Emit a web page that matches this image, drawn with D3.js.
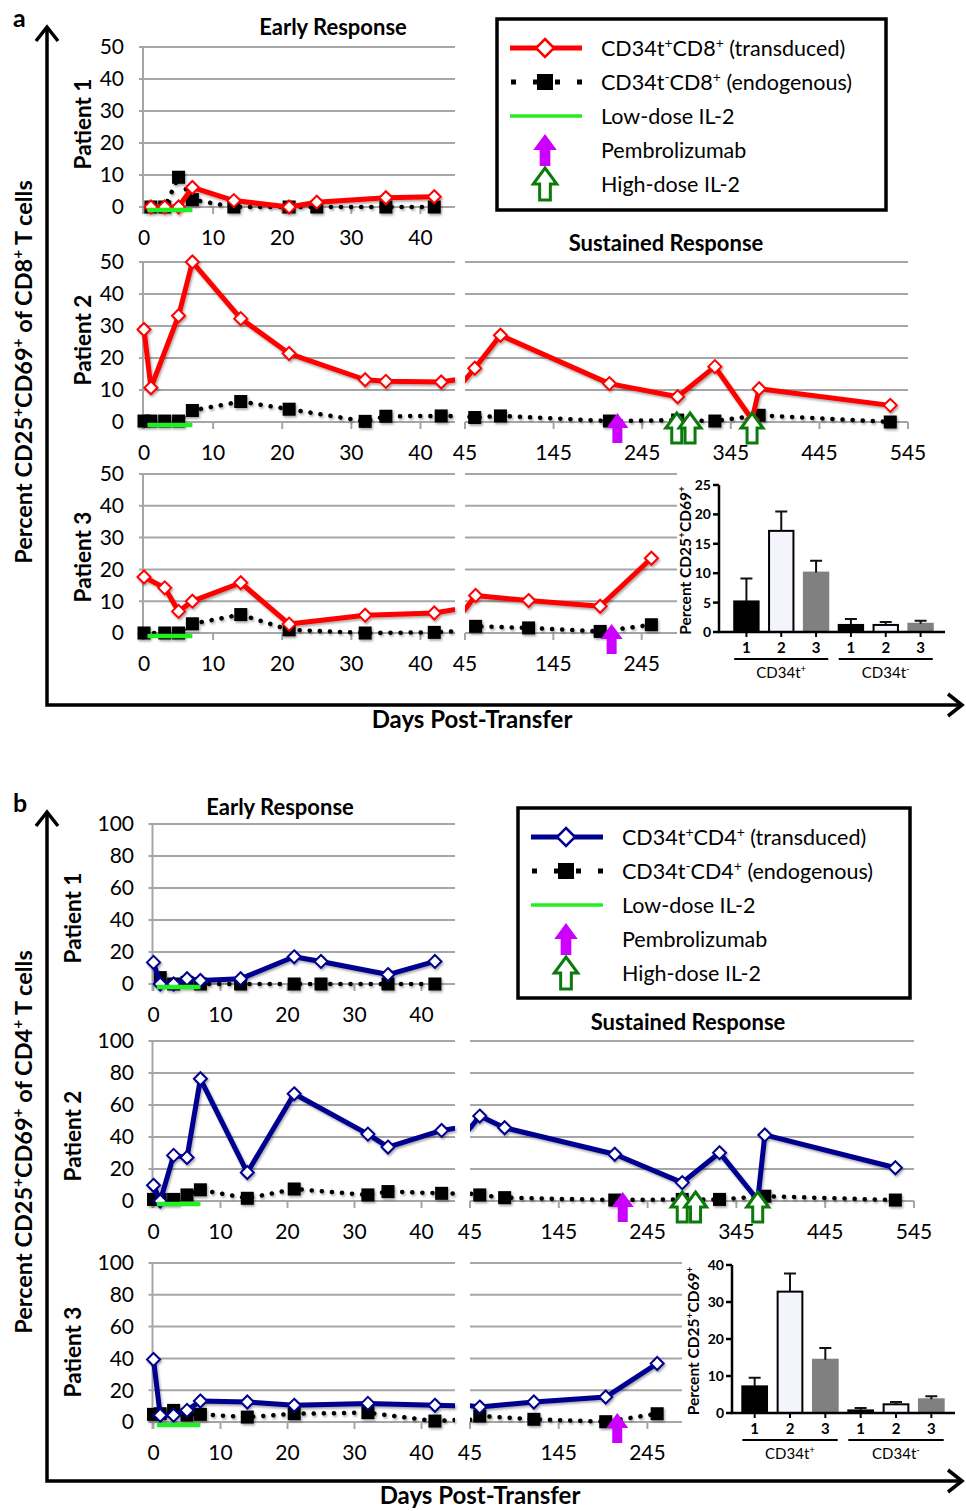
<!DOCTYPE html>
<html>
<head>
<meta charset="utf-8">
<script src="https://cdn.jsdelivr.net/npm/d3@7"></script>
<style>
  body { margin: 0; background: #fff; }
  text { font-family: Lato, "Open Sans", sans-serif; fill: #000; }
</style>
</head>
<body>
<svg id="fig" width="966" height="1511"></svg>
<script>
// ---------- values ----------
var il2Days = [0.5, 7];                 // low-dose IL-2 window
var p2Pembro = [217], p2HighDose = [284, 299, 369];
var p3Pembro = [211];

// panel a, CD8+
var a1Days  = [1, 3, 5, 7, 13, 21, 25, 35, 42];
var a1Trans = [0, 0, 0, 6.1, 2.0, 0, 1.5, 2.9, 3.2];
var a1Endo  = [0, 0, 9.3, 2.3, 0, 0, 0, 0, 0];

var a2Days  = [0, 1, 3, 5, 7, 14, 21, 32, 35, 43, 56, 85, 208, 285, 327, 369, 377, 525];
var a2Trans = [28.9, 10.7, null, 33.2, 50, 32.3, 21.4, 13.2, 12.7, 12.5, 16.8, 27.1, 12.0, 7.9, 17.3, 0.8, 10.4, 5.2];
var a2Endo  = [0.3, 0.3, 0.3, 0.3, 3.6, 6.4, 4.0, 0.2, 1.8, 1.9, 1.4, 1.9, 0.3, 0.6, 0.3, null, 2.1, 0];

var a3Days  = [0, 3, 5, 7, 14, 21, 32, 42, 57, 117, 198, 256];
var a3Trans = [17.6, 14.2, 6.8, 10.0, 15.8, 2.8, 5.6, 6.3, 11.8, 10.2, 8.4, 23.5];
var a3Endo  = [0, 0, 0, 2.9, 5.8, 1.0, 0, 0.2, 2.1, 1.6, 0.5, 2.6];

// panel b, CD4+
var b1Days  = [0, 1, 3, 5, 7, 13, 21, 25, 35, 42];
var b1Trans = [13.5, 0, 0, 3.3, 2.2, 3.3, 17.0, 14.1, 5.9, 14.1];
var b1Endo  = [null, 4.0, 0, 1.0, 0, 0, 0, 0, 0, 0];

var b2Days  = [0, 1, 3, 5, 7, 14, 21, 32, 35, 43, 56, 84, 208, 284, 326, 369, 377, 524];
var b2Trans = [9.8, 0, 28.5, 27.2, 76.4, 17.8, 67.0, 41.8, 33.7, 44.1, 53.1, 45.8, 29.2, 11.5, 30.2, 0.6, 41.3, 20.8];
var b2Endo  = [1.0, 1.0, 1.0, 3.8, 7.0, 1.7, 7.5, 3.8, 5.9, 4.8, 3.8, 2.1, 0.6, 1.0, 1.0, null, 3.0, 0.6];

var b3Days  = [0, 1, 3, 5, 7, 14, 21, 32, 42, 56, 117, 198, 256];
var b3Trans = [39.3, 4.2, 4.2, 7.3, 13.2, 12.6, 10.5, 11.7, 10.5, 9.4, 12.6, 15.7, 36.8];
var b3Endo  = [4.8, 5.2, 7.3, 4.4, 4.8, 3.1, 5.2, 5.9, 0.6, 3.8, 1.7, 0.2, 5.2];

// inset bar charts
var barLabels = ["1", "2", "3", "1", "2", "3"];
var barGroups = ["CD34t^+", "CD34t^-"];
var barColors = ["#000000", "#f4f4fc", "#808080"];
var cd8Mean = [5.2, 17.2, 10.1, 1.2, 1.2, 1.4];
var cd8Err  = [3.9, 3.3, 2.0, 1.0, 0.5, 0.5];
var cd4Mean = [7.2, 32.8, 14.4, 0.7, 2.35, 3.7];
var cd4Err  = [2.3, 4.9, 3.2, 0.65, 0.65, 0.8];

// ticks
var cd8Ticks = [0, 10, 20, 30, 40, 50];
var cd4Ticks = [0, 20, 40, 60, 80, 100];
var earlyTicks = [0, 10, 20, 30, 40];
var lateTicks = [45, 145, 245, 345, 445, 545];
var lateTicksShort = [45, 145, 245];
var cd8BarTicks = [0, 5, 10, 15, 20, 25];
var cd4BarTicks = [0, 10, 20, 30, 40];

var legendA = ["CD34t^+CD8^+ (transduced)", "CD34t^-CD8^+ (endogenous)", "Low-dose IL-2", "Pembrolizumab", "High-dose IL-2"];
var legendB = ["CD34t^+CD4^+ (transduced)", "CD34t^-CD4^+ (endogenous)", "Low-dose IL-2", "Pembrolizumab", "High-dose IL-2"];

// ---------- drawing ----------
var svg = d3.select("#fig");
var defs = svg.append("defs");
defs.append("filter").attr("id", "shadow").attr("x", "-20%").attr("y", "-20%").attr("width", "140%").attr("height", "140%")
  .append("feDropShadow").attr("dx", 1.2).attr("dy", 1.8).attr("stdDeviation", 1.2).attr("flood-opacity", 0.35);

var GRID = "#a6a6a6", RED = "#ff0000", BLUE = "#00008f", LIME = "#22ee22", PURPLE = "#cc00ff", DKGREEN = "#0a7a0a";
var ARIAL = "'Liberation Sans', Arial, sans-serif";

// text with ^+ / ^- superscripts
function rich(sel, str) {
  str.split(/(\^[+-])/).forEach(function (p) {
    if (!p) return;
    if (p[0] === "^") sel.append("tspan").attr("baseline-shift", "super").attr("font-size", "65%").text(p[1]);
    else sel.append("tspan").text(p);
  });
  return sel;
}

function pairs(days, vals) {
  return days.map(function (d, i) { return [d, vals[i]]; }).filter(function (p) { return p[1] != null; });
}

function diamond(cx, cy, r) {
  return "M" + cx + "," + (cy - r) + "L" + (cx + r) + "," + cy + "L" + cx + "," + (cy + r) + "L" + (cx - r) + "," + cy + "Z";
}

function arrow(cx, tip, k) {
  k = k || 1;
  var hw = 11 * k, sw = 5 * k, hh = 15 * k, h = 30 * k;
  return "M" + cx + "," + tip + "L" + (cx + hw) + "," + (tip + hh) + "L" + (cx + sw) + "," + (tip + hh) +
    "L" + (cx + sw) + "," + (tip + h) + "L" + (cx - sw) + "," + (tip + h) + "L" + (cx - sw) + "," + (tip + hh) +
    "L" + (cx - hw) + "," + (tip + hh) + "Z";
}

var clipN = 0;
function lineChart(o) {
  var x = d3.scaleLinear().domain(o.dom).range(o.xr);
  var y = d3.scaleLinear().domain([0, d3.max(o.yTicks)]).range([o.y0, o.yTop]);
  var g = svg.append("g");

  g.selectAll(null).data(o.yTicks).join("line")
    .attr("x1", o.early ? o.xr[0] - 5 : o.xr[0]).attr("x2", o.xr[1])
    .attr("y1", y).attr("y2", y)
    .attr("stroke", GRID).attr("stroke-width", 2);
  g.selectAll(null).data(o.xTicks).join("line")
    .attr("x1", x).attr("x2", x).attr("y1", o.y0).attr("y2", o.y0 + 7)
    .attr("stroke", GRID).attr("stroke-width", 2);
  g.selectAll(null).data(o.xTicks).join("text")
    .attr("x", x).attr("y", o.y0 + 38).attr("text-anchor", "middle").attr("font-size", 21)
    .text(function (d) { return d; });

  if (o.early) {
    g.append("line").attr("x1", x(0) - 1).attr("x2", x(0) - 1).attr("y1", o.yTop).attr("y2", o.y0 + 7)
      .attr("stroke", GRID).attr("stroke-width", 2);
    g.selectAll(null).data(o.yTicks).join("text")
      .attr("x", o.labelX).attr("y", y).attr("dy", "0.35em").attr("text-anchor", "end").attr("font-size", 21)
      .text(function (d) { return d; });
  }

  var id = "clip" + (clipN++);
  var c0 = o.early ? x(0) - 12 : o.xr[0], c1 = o.early ? o.xr[1] : o.xr[1] + 12;
  defs.append("clipPath").attr("id", id).append("rect")
    .attr("x", c0).attr("y", o.yTop - 30).attr("width", c1 - c0).attr("height", o.y0 - o.yTop + 60);

  var line = d3.line().x(function (d) { return x(d[0]); }).y(function (d) { return y(d[1]); });
  var endo = pairs(o.days, o.endo), trans = pairs(o.days, o.trans);
  var inDom = function (d) { return d[0] >= o.dom[0] && d[0] <= o.dom[1]; };

  var s = g.append("g").attr("filter", "url(#shadow)");
  s.append("path").datum(endo).attr("clip-path", "url(#" + id + ")").attr("d", line)
    .attr("fill", "none").attr("stroke", "#000").attr("stroke-width", 4.5)
    .attr("stroke-linecap", "round").attr("stroke-dasharray", "0.1 10");
  s.selectAll(null).data(endo.filter(inDom)).join("rect")
    .attr("x", function (d) { return x(d[0]) - 6.5; }).attr("y", function (d) { return y(d[1]) - 6.5; })
    .attr("width", 13).attr("height", 13).attr("fill", "#000");
  s.append("path").datum(trans).attr("clip-path", "url(#" + id + ")").attr("d", line)
    .attr("fill", "none").attr("stroke", o.color).attr("stroke-width", 5).attr("stroke-linejoin", "round");
  s.selectAll(null).data(trans.filter(inDom)).join("path")
    .attr("d", function (d) { return diamond(x(d[0]), y(d[1]), 6.5); })
    .attr("fill", "#fff").attr("stroke", o.color).attr("stroke-width", 2);

  if (o.early) {
    g.append("line").attr("x1", x(il2Days[0])).attr("x2", x(il2Days[1]))
      .attr("y1", o.y0 + 3).attr("y2", o.y0 + 3).attr("stroke", LIME).attr("stroke-width", 4.5);
  }
  (o.pembro || []).forEach(function (d) {
    g.append("path").attr("d", arrow(x(d), o.y0 - 9)).attr("fill", PURPLE);
  });
  (o.hd || []).forEach(function (d) {
    g.append("path").attr("d", arrow(x(d), o.y0 - 9)).attr("fill", "#fff")
      .attr("stroke", DKGREEN).attr("stroke-width", 3);
  });
}

function insetChart(o) {
  var x = d3.scaleBand().domain(d3.range(barLabels.length)).range(o.xr).paddingInner(0.3).paddingOuter(0.15);
  var y = d3.scaleLinear().domain([0, d3.max(o.ticks)]).range([o.y0, o.yTop]);
  var bw = x.bandwidth();
  var g = svg.append("g");
  g.selectAll(null).data(o.mean).join("rect")
    .attr("x", function (d, i) { return x(i); }).attr("y", function (d) { return y(d); })
    .attr("width", bw).attr("height", function (d) { return o.y0 - y(d); })
    .attr("fill", function (d, i) { return barColors[i % 3]; })
    .attr("stroke", function (d, i) { return i % 3 === 2 ? "#808080" : "#000"; }).attr("stroke-width", 2);
  g.selectAll(null).data(o.mean).join("path")
    .attr("d", function (d, i) {
      var cx = x(i) + bw / 2, y1 = y(d), y2 = y(d + o.err[i]);
      return "M" + cx + "," + y1 + "V" + y2 + "M" + (cx - 6) + "," + y2 + "H" + (cx + 6);
    })
    .attr("fill", "none").attr("stroke", "#111").attr("stroke-width", 2);
  // axes
  g.append("path").attr("d", "M" + o.axisX + "," + o.yTop + "V" + o.y0 + "H" + o.axisEnd)
    .attr("fill", "none").attr("stroke", "#000").attr("stroke-width", 2.5);
  g.selectAll(null).data(o.ticks).join("line")
    .attr("x1", o.axisX - 6).attr("x2", o.axisX).attr("y1", y).attr("y2", y)
    .attr("stroke", "#000").attr("stroke-width", 2.5);
  g.selectAll(null).data(o.ticks).join("text")
    .attr("x", o.axisX - 8).attr("y", y).attr("dy", "0.35em").attr("text-anchor", "end")
    .attr("font-family", ARIAL).attr("font-weight", "bold").attr("font-size", 14)
    .text(function (d) { return d; });
  g.selectAll(null).data(barLabels).join("line")
    .attr("x1", function (d, i) { return x(i) + bw / 2; }).attr("x2", function (d, i) { return x(i) + bw / 2; })
    .attr("y1", o.y0).attr("y2", o.y0 + 5).attr("stroke", "#000").attr("stroke-width", 2);
  g.selectAll(null).data(barLabels).join("text")
    .attr("x", function (d, i) { return x(i) + bw / 2; }).attr("y", o.y0 + 21).attr("text-anchor", "middle")
    .attr("font-family", ARIAL).attr("font-weight", "bold").attr("font-size", 15)
    .text(function (d) { return d; });
  barGroups.forEach(function (lab, k) {
    var xa = x(k * 3), xb = x(k * 3 + 2) + bw;
    g.append("line").attr("x1", xa).attr("x2", xb).attr("y1", o.y0 + 27).attr("y2", o.y0 + 27)
      .attr("stroke", "#000").attr("stroke-width", 2);
    rich(g.append("text").attr("x", (xa + xb) / 2).attr("y", o.y0 + 46).attr("text-anchor", "middle")
      .attr("font-family", ARIAL).attr("font-size", 15), lab);
  });
  rich(g.append("text").attr("transform", "translate(" + (o.axisX - o.titleOff) + "," + ((o.y0 + o.yTop) / 2 + 2) + ") rotate(-90)")
    .attr("text-anchor", "middle").attr("font-family", ARIAL)
    .attr("font-weight", "bold").attr("font-size", 15.5), "Percent CD25^+CD69^+");
}

function legend(o) {
  var g = svg.append("g");
  g.append("rect").attr("x", o.x).attr("y", o.y).attr("width", o.w).attr("height", o.h)
    .attr("fill", "#fff").attr("stroke", "#000").attr("stroke-width", 3.5);
  var cx = o.x + 48, lx0 = o.x + 13, lx1 = o.x + 85;
  var rows = o.labels.map(function (d, i) { return o.y + 29 + i * 34; });
  g.append("line").attr("x1", lx0).attr("x2", lx1).attr("y1", rows[0]).attr("y2", rows[0])
    .attr("stroke", o.color).attr("stroke-width", 5);
  g.append("path").attr("d", diamond(cx, rows[0], 9)).attr("fill", "#fff").attr("stroke", o.color).attr("stroke-width", 2.5);
  g.append("line").attr("x1", lx0 + 1).attr("x2", lx1).attr("y1", rows[1]).attr("y2", rows[1])
    .attr("stroke", "#000").attr("stroke-width", 5).attr("stroke-dasharray", "5 17");
  g.append("rect").attr("x", cx - 8).attr("y", rows[1] - 8).attr("width", 16).attr("height", 16).attr("fill", "#000");
  g.append("line").attr("x1", lx0).attr("x2", lx1).attr("y1", rows[2]).attr("y2", rows[2])
    .attr("stroke", LIME).attr("stroke-width", 3.5);
  g.append("path").attr("d", arrow(cx, rows[3] - 16, 1.07)).attr("fill", PURPLE);
  g.append("path").attr("d", arrow(cx, rows[4] - 16, 1.07)).attr("fill", "#fff").attr("stroke", DKGREEN).attr("stroke-width", 3);
  o.labels.forEach(function (lab, i) {
    rich(g.append("text").attr("x", o.x + 104).attr("y", rows[i]).attr("dy", "0.35em").attr("font-size", 21.5), lab);
  });
}

function frame(o) {
  var g = svg.append("g").attr("fill", "none").attr("stroke", "#000").attr("stroke-width", 3.5);
  g.append("path").attr("d", "M47," + o.top + "V" + o.bottom + "H962");
  g.append("path").attr("d", "M36," + (o.top + 14) + "L47," + o.top + "L58," + (o.top + 14));
  g.append("path").attr("d", "M948," + (o.bottom - 11) + "L962," + o.bottom + "L948," + (o.bottom + 11));
  svg.append("text").attr("x", 13).attr("y", o.letterY).attr("font-family", "'Liberation Serif', serif")
    .attr("font-weight", "bold").attr("font-size", 25).text(o.letter);
  rich(svg.append("text").attr("transform", "translate(32," + o.titleY + ") rotate(-90)")
    .attr("text-anchor", "middle").attr("font-weight", "bold").attr("font-size", 23.5), o.title);
  svg.append("text").attr("x", o.daysX).attr("y", o.daysY).attr("text-anchor", "middle")
    .attr("font-weight", "bold").attr("font-size", 24).text("Days Post-Transfer");
  o.patients.forEach(function (p, i) {
    svg.append("text").attr("transform", "translate(" + p[0] + "," + p[1] + ") rotate(-90)")
      .attr("text-anchor", "middle").attr("font-weight", "bold").attr("font-size", 22.5).text("Patient " + (i + 1));
  });
  svg.append("text").attr("x", o.early[0]).attr("y", o.early[1]).attr("text-anchor", "middle")
    .attr("font-weight", "bold").attr("font-size", 22).text("Early Response");
  svg.append("text").attr("x", o.sust[0]).attr("y", o.sust[1]).attr("text-anchor", "middle")
    .attr("font-weight", "bold").attr("font-size", 22).text("Sustained Response");
}

// ---------- panel a ----------
frame({ top: 27, bottom: 705, letter: "a", letterY: 27, title: "Percent CD25^+CD69^+ of CD8^+ T cells", titleY: 372,
  daysX: 472, daysY: 728, patients: [[91, 124], [91, 340], [91, 557]], early: [333, 35], sust: [666, 251] });

lineChart({ early: true, xr: [144, 455], dom: [0, 45], y0: 207, yTop: 47, yTicks: cd8Ticks, xTicks: earlyTicks,
  labelX: 124, days: a1Days, trans: a1Trans, endo: a1Endo, color: RED });
lineChart({ early: true, xr: [144, 455], dom: [0, 45], y0: 422, yTop: 262, yTicks: cd8Ticks, xTicks: earlyTicks,
  labelX: 124, days: a2Days, trans: a2Trans, endo: a2Endo, color: RED });
lineChart({ early: false, xr: [465, 908], dom: [45, 545], y0: 422, yTop: 262, yTicks: cd8Ticks, xTicks: lateTicks,
  days: a2Days, trans: a2Trans, endo: a2Endo, color: RED, pembro: p2Pembro, hd: p2HighDose });
lineChart({ early: true, xr: [144, 455], dom: [0, 45], y0: 633, yTop: 474, yTicks: cd8Ticks, xTicks: earlyTicks,
  labelX: 124, days: a3Days, trans: a3Trans, endo: a3Endo, color: RED });
lineChart({ early: false, xr: [465, 677], dom: [45, 285], y0: 633, yTop: 474, yTicks: cd8Ticks, xTicks: lateTicksShort,
  days: a3Days, trans: a3Trans, endo: a3Endo, color: RED, pembro: p3Pembro });
insetChart({ xr: [729, 938], axisX: 719, axisEnd: 945, y0: 632, yTop: 485, ticks: cd8BarTicks, mean: cd8Mean, err: cd8Err, titleOff: 28 });
legend({ x: 497, y: 19, w: 389, h: 191, color: RED, labels: legendA });

// ---------- panel b ----------
frame({ top: 812, bottom: 1481, letter: "b", letterY: 812, title: "Percent CD25^+CD69^+ of CD4^+ T cells", titleY: 1142,
  daysX: 480, daysY: 1504, patients: [[81, 918], [81, 1136], [81, 1352]], early: [280, 815], sust: [688, 1030] });

lineChart({ early: true, xr: [153.5, 455], dom: [0, 45], y0: 984, yTop: 824, yTicks: cd4Ticks, xTicks: earlyTicks,
  labelX: 134, days: b1Days, trans: b1Trans, endo: b1Endo, color: BLUE });
lineChart({ early: true, xr: [153.5, 455], dom: [0, 45], y0: 1201, yTop: 1041, yTicks: cd4Ticks, xTicks: earlyTicks,
  labelX: 134, days: b2Days, trans: b2Trans, endo: b2Endo, color: BLUE });
lineChart({ early: false, xr: [470, 914], dom: [45, 545], y0: 1201, yTop: 1041, yTicks: cd4Ticks, xTicks: lateTicks,
  days: b2Days, trans: b2Trans, endo: b2Endo, color: BLUE, pembro: p2Pembro, hd: p2HighDose });
lineChart({ early: true, xr: [153.5, 455], dom: [0, 45], y0: 1422, yTop: 1263, yTicks: cd4Ticks, xTicks: earlyTicks,
  labelX: 134, days: b3Days, trans: b3Trans, endo: b3Endo, color: BLUE });
lineChart({ early: false, xr: [470, 682], dom: [45, 284], y0: 1422, yTop: 1263, yTicks: cd4Ticks, xTicks: lateTicksShort,
  days: b3Days, trans: b3Trans, endo: b3Endo, color: BLUE, pembro: p3Pembro });
insetChart({ xr: [737, 949], axisX: 732, axisEnd: 955, y0: 1413, yTop: 1265, ticks: cd4BarTicks, mean: cd4Mean, err: cd4Err, titleOff: 33 });
legend({ x: 518, y: 808, w: 392, h: 190, color: BLUE, labels: legendB });
</script>
</body>
</html>
